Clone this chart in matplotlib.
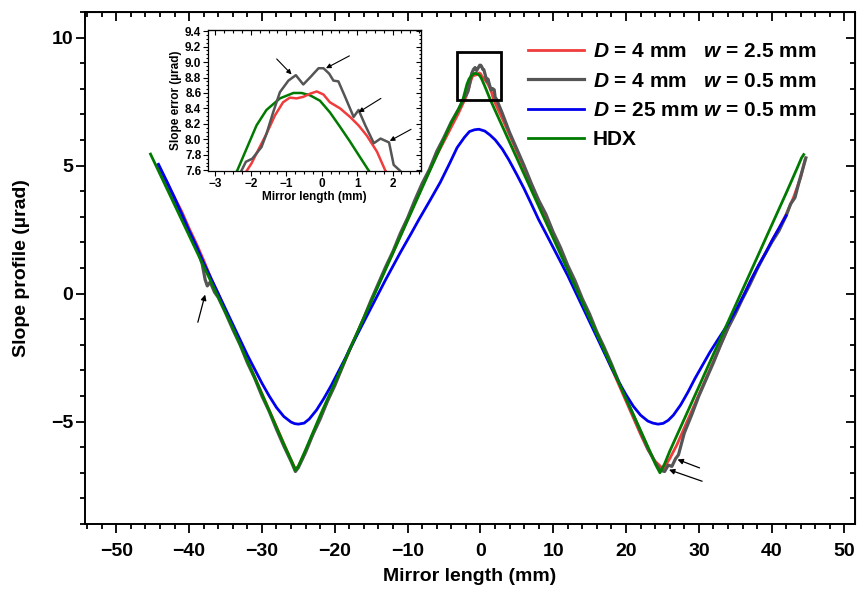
import numpy as np
import matplotlib
matplotlib.use("Agg")
import matplotlib.pyplot as plt
from matplotlib.ticker import MultipleLocator
from matplotlib.patches import Rectangle

plt.rcParams['font.family'] = ['Liberation Sans', 'DejaVu Sans']
plt.rcParams['font.weight'] = 'bold'
plt.rcParams['mathtext.fontset'] = 'custom'
plt.rcParams['mathtext.bfit'] = 'Liberation Sans:italic:bold'
plt.rcParams['mathtext.it'] = 'Liberation Sans:italic:bold'
plt.rcParams['mathtext.bf'] = 'Liberation Sans:bold'
plt.rcParams['mathtext.rm'] = 'Liberation Sans:bold'

# ---- data (mm, urad) ----
x_red = [-44.3, -44, -43, -42, -41, -40, -39, -38, -37, -36, -35, -34, -33, -32, -31,
         -30, -29, -28, -27, -26, -25.4, -25, -24, -23, -22, -21, -20, -19, -18, -17,
         -16, -15, -14, -13, -12, -11, -10, -9, -8, -7, -6, -5, -4, -3,
         -2.12, -1.98, -1.75, -1.56, -1.32, -1.09, -0.9, -0.71, -0.52, -0.33, -0.14,
         0.05, 0.23, 0.52, 0.8, 1.04, 1.27, 1.56, 1.79, 2.5, 3, 4, 5, 6, 7, 8, 9, 10,
         11, 12, 13, 14, 15, 16, 17, 18, 19, 20, 21, 22, 23, 24, 25.1, 26, 27, 28, 29,
         30, 31, 32, 33, 34, 35, 36, 37, 38, 39, 40, 41, 42, 43, 44, 44.6]
y_red = [5.0, 4.85, 4.3, 3.75, 3.2, 2.55, 1.95, 1.3, 0.6, 0.0, -0.65, -1.3, -1.95, -2.6, -3.25,
         -3.9, -4.55, -5.2, -5.85, -6.5, -6.85, -6.75, -6.15, -5.5, -4.85, -4.2, -3.55, -2.9, -2.25, -1.6,
         -0.95, -0.3, 0.35, 1.0, 1.6, 2.25, 2.9, 3.55, 4.2, 4.8, 5.4, 5.95, 6.5, 7.05,
         7.59, 7.69, 7.9, 8.07, 8.31, 8.48, 8.54, 8.53, 8.55, 8.59, 8.62,
         8.58, 8.48, 8.4, 8.29, 8.18, 8.05, 7.84, 7.6, 7.15, 6.85, 6.2, 5.55, 4.9, 4.25, 3.6, 2.95, 2.3,
         1.65, 1.0, 0.35, -0.3, -0.95, -1.6, -2.25, -2.9, -3.55, -4.2, -4.85, -5.5, -6.1, -6.55, -6.85, -6.45, -5.9, -5.25, -4.6,
         -3.95, -3.3, -2.65, -2.0, -1.35, -0.75, -0.15, 0.45, 1.0, 1.5, 2.05, 2.55, 3.1, 3.75, 4.55, 5.25]

x_gray = [-44.3, -44, -43, -42, -41, -40, -39, -38.2, -37.8, -37.5, -37.1, -36.5, -36, -35, -34,
          -33, -32, -31, -30, -29, -28, -27, -26, -25.4, -25, -24, -23, -22, -21, -20, -19,
          -18, -17, -16, -15, -14, -13, -12, -11, -10, -9, -8, -7, -6, -5, -4, -3,
          -2.27, -2.14, -1.96, -1.7, -1.56, -1.37, -1.18, -0.94, -0.73, -0.52, -0.31, -0.09,
          0.05, 0.21, 0.33, 0.47, 0.66, 0.9, 1.04, 1.23, 1.47, 1.66, 1.9, 2.03, 2.22,
          3, 4, 5, 6, 7, 8, 9, 10, 11, 12, 13, 14, 15, 16, 17, 18, 19, 20, 21, 22, 23, 24,
          24.7, 25.3, 25.8, 26.3, 26.8, 27.2, 28, 29, 30, 31, 32, 33, 34, 35, 36, 37, 38,
          39, 40, 41, 42, 42.6, 43.2, 43.8, 44.3, 44.7]
y_gray = [5.0, 4.85, 4.3, 3.65, 3.1, 2.45, 1.85, 1.15, 0.55, 0.3, 0.45, 0.05, -0.15, -0.75, -1.4,
          -2.0, -2.7, -3.3, -4.0, -4.6, -5.3, -5.95, -6.55, -6.95, -6.8, -6.2, -5.5, -4.9, -4.2, -3.6, -2.9,
          -2.2, -1.6, -0.95, -0.25, 0.4, 1.05, 1.65, 2.35, 2.95, 3.65, 4.3, 4.85, 5.55, 6.1, 6.7, 7.2,
          7.59, 7.71, 7.75, 7.9, 8.07, 8.35, 8.61, 8.76, 8.83, 8.71, 8.81, 8.92,
          8.92, 8.85, 8.76, 8.75, 8.55, 8.29, 8.38, 8.18, 7.95, 8.01, 7.96, 7.67, 7.59,
          7.05, 6.3, 5.65, 5.0, 4.3, 3.65, 3.1, 2.4, 1.8, 1.1, 0.5, -0.2, -0.8, -1.5, -2.1, -2.75, -3.45, -4.1, -4.75, -5.4, -6.05, -6.6,
          -6.9, -6.95, -6.7, -6.75, -6.45, -6.3, -5.45, -4.75, -4.0, -3.35, -2.7, -2.0, -1.35, -0.8, -0.2, 0.35, 0.95,
          1.5, 2.0, 2.45, 3.05, 3.5, 3.75, 4.4, 4.9, 5.3]

x_blue = [-44.2, -43, -42, -41, -40, -39, -38, -37, -36, -35, -34, -33, -32, -31, -30, -29, -28,
          -27, -26, -25.5, -25, -24.2, -23.5, -22.5, -21.5, -20.5, -19.5, -18.5, -17, -15, -13,
          -11, -9.5, -8.45, -7, -5.5, -4.2, -3.2, -2.2, -1.5, -0.8, -0.2, 0.6, 1.3, 2.05, 3, 3.9,
          5, 6, 7, 8, 9, 10, 11, 12, 13, 14, 15, 16, 17, 18, 19, 20, 21, 22, 23, 23.7, 24.4,
          25.1, 25.8, 26.5, 27.5, 28.5, 29.5, 30.5, 31.5, 32.5, 33.8, 35, 36.2, 37.2, 38.2,
          39.2, 40.2, 41.2, 42.0]
y_blue = [5.05, 4.35, 3.75, 3.1, 2.45, 1.85, 1.2, 0.6, 0.0, -0.6, -1.2, -1.8, -2.4, -2.95, -3.5, -4.0, -4.45,
          -4.8, -5.02, -5.08, -5.1, -5.06, -4.9, -4.55, -4.1, -3.6, -3.05, -2.5, -1.65, -0.55, 0.55,
          1.6, 2.35, 2.89, 3.6, 4.35, 5.1, 5.7, 6.1, 6.33, 6.4, 6.42, 6.35, 6.2, 6.0, 5.65, 5.23,
          4.65, 4.1, 3.5, 2.89, 2.35, 1.8, 1.25, 0.7, 0.1, -0.5, -1.1, -1.7, -2.3, -2.9, -3.45, -3.95, -4.4, -4.75, -4.98, -5.06, -5.1,
          -5.07, -4.95, -4.75, -4.35, -3.85, -3.3, -2.8, -2.3, -1.85, -1.28, -0.7, -0.05, 0.55, 1.1,
          1.6, 2.15, 2.65, 3.05]

x_hdx = [-45.3, -44, -42, -40, -38, -36, -34, -32, -30, -28, -27, -26, -25.4, -25, -24, -22,
         -20, -18, -16, -14, -12, -10, -8, -6, -4, -3,
         -2.39, -2.12, -1.84, -1.56, -1.18, -0.8, -0.57, -0.33, -0.05, 0.23, 0.52, 0.8, 1.08, 1.32,
         2, 4, 6, 8, 10, 12, 14, 16, 18, 20, 22, 23.5, 24.1, 24.66, 25.3, 26, 28, 30, 32, 34,
         36, 38, 40, 42, 43.5, 44.1, 44.4]
y_hdx = [5.45, 4.67, 3.47, 2.27, 1.07, -0.13, -1.33, -2.63, -3.93, -5.23, -5.88, -6.5, -6.9, -6.75, -6.1, -4.76,
         -3.49, -2.22, -0.95, 0.32, 1.59, 2.86, 4.13, 5.4, 6.67, 7.2,
         7.59, 7.88, 8.18, 8.38, 8.53, 8.6, 8.6, 8.57, 8.5, 8.35, 8.16, 7.97, 7.77, 7.6,
         7.17, 5.92, 4.67, 3.42, 2.17, 0.91, -0.34, -1.59, -2.84, -4.1, -5.35, -6.3, -6.7, -7.0, -6.65, -6.16, -4.9, -3.64, -2.37, -1.11,
         0.15, 1.41, 2.67, 3.93, 4.9, 5.3, 5.43]

labels = [r'$\mathbfit{D}$ = 4 mm   $\mathbfit{w}$ = 2.5 mm',
          r'$\mathbfit{D}$ = 4 mm   $\mathbfit{w}$ = 0.5 mm',
          r'$\mathbfit{D}$ = 25 mm $\mathbfit{w}$ = 0.5 mm',
          'HDX']
colors = ['#f03c3c', '#555555', '#0000ee', '#007a00']

fig = plt.figure(figsize=(8.6, 5.91), dpi=100)
ax = fig.add_axes([0.0988, 0.1134, 0.895, 0.8663])

series = [(x_red, y_red), (x_gray, y_gray), (x_blue, y_blue), (x_hdx, y_hdx)]
widths = [2.0, 2.3, 2.0, 2.0]
order = [1, 0, 2, 3]
lines = {}
for i in order:
    xs, ys = series[i]
    lines[i], = ax.plot(xs, ys, color=colors[i], lw=widths[i], label=labels[i], zorder=2 + i * 0.1)

ax.set_xlim(-54.3, 51.4)
ax.set_ylim(-9, 11)
ax.xaxis.set_major_locator(MultipleLocator(10))
ax.xaxis.set_minor_locator(MultipleLocator(2))
ax.yaxis.set_major_locator(MultipleLocator(5))
ax.yaxis.set_minor_locator(MultipleLocator(1))
ax.tick_params(which='both', direction='out', top=False, right=False, width=1.3)
ax.tick_params(which='major', length=6.5, labelsize=14)
ax.tick_params(axis='x', which='major', pad=7)
ax.tick_params(axis='y', which='major', pad=2)
ax.tick_params(which='minor', length=3.5)
for s in ax.spines.values():
    s.set_linewidth(1.4)

# inward ticks on top and right
secx = ax.secondary_xaxis('top')
secx.xaxis.set_major_locator(MultipleLocator(10))
secx.xaxis.set_minor_locator(MultipleLocator(2))
secx.tick_params(which='both', direction='in', labeltop=False, width=1.3)
secx.tick_params(which='major', length=6.5)
secx.tick_params(which='minor', length=3.5)
secy = ax.secondary_yaxis('right')
secy.yaxis.set_major_locator(MultipleLocator(5))
secy.yaxis.set_minor_locator(MultipleLocator(1))
secy.tick_params(which='both', direction='in', labelright=False, width=1.3)
secy.tick_params(which='major', length=6.5)
secy.tick_params(which='minor', length=3.5)

ax.set_xlabel('Mirror length (mm)', fontsize=14, fontweight='bold', labelpad=6)
ax.set_ylabel('Slope profile (\u00b5rad)', fontsize=14, fontweight='bold', labelpad=15)

handles = [lines[i] for i in range(4)]
ax.legend(handles, labels, loc='upper left', bbox_to_anchor=(0.575, 0.941),
          frameon=False, fontsize=15, handlelength=2.7, handletextpad=0.42,
          labelspacing=0.5, borderpad=0, borderaxespad=0)

# box marking the zoomed region
ax.add_patch(Rectangle((-3.2, 7.55), 6.1, 1.87, fill=False, ec='k', lw=2, zorder=5))

arrow = dict(arrowstyle='-|>', color='k', lw=0.9, mutation_scale=8, shrinkA=0, shrinkB=0)
ax.annotate('', xy=(-37.8, -0.04), xytext=(-38.8, -1.12), arrowprops=arrow)
ax.annotate('', xy=(27.07, -6.48), xytext=(30.1, -6.81), arrowprops=arrow)
ax.annotate('', xy=(25.9, -6.88), xytext=(30.45, -7.33), arrowprops=arrow)

# inset
ins = fig.add_axes([0.2422, 0.7112, 0.2473, 0.2381])
ins.set_facecolor('white')
for i in [3, 0, 1]:
    xs, ys = series[i]
    ins.plot(xs, ys, color=colors[i], lw=1.8)
ins.set_xlim(-3.2, 2.8)
ins.set_ylim(7.595, 9.415)
ins.xaxis.set_major_locator(MultipleLocator(1))
ins.xaxis.set_minor_locator(MultipleLocator(0.25))
ins.yaxis.set_major_locator(MultipleLocator(0.2))
ins.yaxis.set_minor_locator(MultipleLocator(0.05))
ins.tick_params(which='both', direction='out', labelsize=8.5, width=0.8, pad=1.5)
ins.tick_params(which='major', length=3.5)
ins.tick_params(which='minor', length=1.8)
for s in ins.spines.values():
    s.set_linewidth(0.9)
ins_top = ins.secondary_xaxis('top')
ins_top.xaxis.set_major_locator(MultipleLocator(1))
ins_top.xaxis.set_minor_locator(MultipleLocator(0.25))
ins_top.tick_params(which='both', direction='in', labeltop=False, width=0.8)
ins_top.tick_params(which='major', length=3.5)
ins_top.tick_params(which='minor', length=1.8)
ins_right = ins.secondary_yaxis('right')
ins_right.yaxis.set_major_locator(MultipleLocator(0.2))
ins_right.yaxis.set_minor_locator(MultipleLocator(0.05))
ins_right.tick_params(which='both', direction='in', labelright=False, width=0.8)
ins_right.tick_params(which='major', length=3.5)
ins_right.tick_params(which='minor', length=1.8)
ins.set_xlabel('Mirror length (mm)', fontsize=8.5, fontweight='bold', labelpad=1)
ins.set_ylabel('Slope error (\u00b5rad)', fontsize=8.5, fontweight='bold', labelpad=2)

arrow2 = dict(arrowstyle='-|>', color='k', lw=0.8, mutation_scale=7, shrinkA=0, shrinkB=0)
ins.annotate('', xy=(-0.85, 8.84), xytext=(-1.27, 9.04), arrowprops=arrow2)
ins.annotate('', xy=(0.12, 8.92), xytext=(0.78, 9.08), arrowprops=arrow2)
ins.annotate('', xy=(1.04, 8.35), xytext=(1.67, 8.53), arrowprops=arrow2)
ins.annotate('', xy=(1.92, 7.98), xytext=(2.52, 8.13), arrowprops=arrow2)

fig.savefig('out.png', dpi=100)
